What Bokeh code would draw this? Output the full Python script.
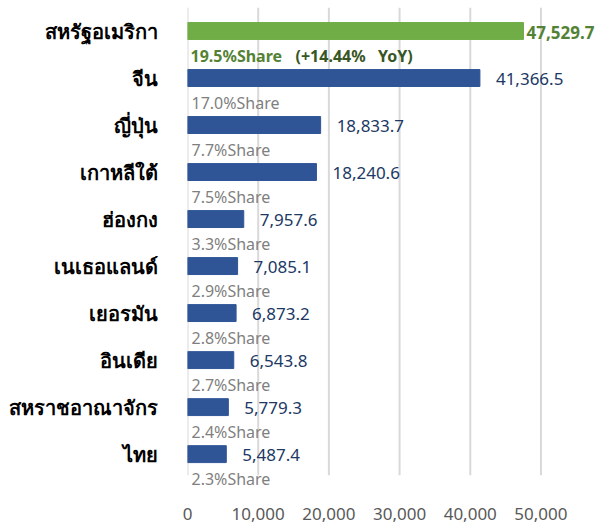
from bokeh.plotting import figure
from bokeh.models import ColumnDataSource, LabelSet, Range1d, FixedTicker, NumeralTickFormatter
from bokeh.core.properties import value
from bokeh.embed import file_html
from bokeh.resources import INLINE

countries = ["สหรัฐอเมริกา", "จีน", "ญี่ปุ่น", "เกาหลีใต้", "ฮ่องกง", "เนเธอแลนด์", "เยอรมัน", "อินเดีย", "สหราชอาณาจักร", "ไทย"]
values = [47529.7, 41366.5, 18833.7, 18240.6, 7957.6, 7085.1, 6873.2, 6543.8, 5779.3, 5487.4]
shares = ["19.5%Share", "17.0%Share", "7.7%Share", "7.5%Share", "3.3%Share", "2.9%Share", "2.8%Share", "2.7%Share", "2.4%Share", "2.3%Share"]
highlight = "สหรัฐอเมริกา"
highlight_yoy = "(+14.44%\u00a0\u00a0\u00a0YoY)"
x_ticks = [0, 10000, 20000, 30000, 40000, 50000]

GREEN = "#70AD47"
BLUE = "#2F5597"
FONT = "Noto Sans"

n = len(countries)
pos = [n - 1 - i for i in range(n)]
colors = [GREEN if c == highlight else BLUE for c in countries]
val_text = ["{:,.1f}".format(v) for v in values]

hi = [i for i, c in enumerate(countries) if c == highlight]
lo = [i for i, c in enumerate(countries) if c != highlight]

def sub(idx):
    return ColumnDataSource(dict(
        y=[pos[i] for i in idx],
        x=[values[i] for i in idx],
        t=[val_text[i] for i in idx],
        s=[shares[i] for i in idx],
        yoy=[highlight_yoy for i in idx],
        zero=[0 for i in idx],
    ))

src_hi = sub(hi)
src_lo = sub(lo)
src = ColumnDataSource(dict(y=pos, x=values, c=colors))

p = figure(width=597, height=525, output_backend="svg", toolbar_location=None,
           y_range=Range1d(-0.71, n - 0.5),
           x_range=Range1d(0, 58000),
           min_border_left=187, min_border_right=0, min_border_top=7, min_border_bottom=38)
p.outline_line_color = None
p.background_fill_color = "white"

# vertical gridlines (from the tick values)
p.segment(x0=x_ticks, x1=x_ticks, y0=[-0.45] * len(x_ticks), y1=[n - 0.5] * len(x_ticks),
          line_color="#D9D9D9", line_width=2)

p.hbar(y="y", right="x", left=0, height=0.36, color="c", source=src)

# axes
p.xaxis.ticker = FixedTicker(ticks=x_ticks)
p.xaxis.formatter = NumeralTickFormatter(format="0,0")
p.xaxis.axis_line_color = None
p.xaxis.major_tick_line_color = None
p.xaxis.minor_tick_line_color = None
p.xaxis.major_label_text_font = FONT
p.xaxis.major_label_text_font_size = "17px"
p.xaxis.major_label_text_color = "#595959"
p.xaxis.major_label_standoff = 14

p.yaxis.ticker = FixedTicker(ticks=pos)
p.yaxis.major_label_overrides = {pos[i]: countries[i] for i in range(n)}
p.yaxis.axis_line_color = None
p.yaxis.major_tick_line_color = None
p.yaxis.minor_tick_line_color = None
p.yaxis.major_label_text_font = FONT
p.yaxis.major_label_text_font_size = "20px"
p.yaxis.major_label_text_font_style = "bold"
p.yaxis.major_label_text_color = "black"
p.yaxis.major_label_standoff = 24

p.xgrid.grid_line_color = None
p.ygrid.grid_line_color = None

# value labels
p.add_layout(LabelSet(x="x", y="y", text="t", source=src_lo, x_offset=16, y_offset=-1,
                      text_baseline="middle", text_font=value(FONT), text_font_size="17px",
                      text_color="#203864"))
p.add_layout(LabelSet(x="x", y="y", text="t", source=src_hi, x_offset=3, y_offset=-1,
                      text_baseline="middle", text_font=value(FONT), text_font_size="17px",
                      text_font_style="bold", text_color="#548235"))
# share labels
p.add_layout(LabelSet(x="zero", y="y", text="s", source=src_lo, x_offset=4, y_offset=-25,
                      text_baseline="middle", text_font=value(FONT), text_font_size="16px",
                      text_color="#7F7F7F"))
p.add_layout(LabelSet(x="zero", y="y", text="s", source=src_hi, x_offset=3, y_offset=-25,
                      text_baseline="middle", text_font=value(FONT), text_font_size="16px",
                      text_font_style="bold", text_color="#548235"))
p.add_layout(LabelSet(x="zero", y="y", text="yoy", source=src_hi, x_offset=108, y_offset=-25,
                      text_baseline="middle", text_font=value(FONT), text_font_size="16px",
                      text_font_style="bold", text_color="#375623"))

open("out.html", "w").write(file_html(p, INLINE))
